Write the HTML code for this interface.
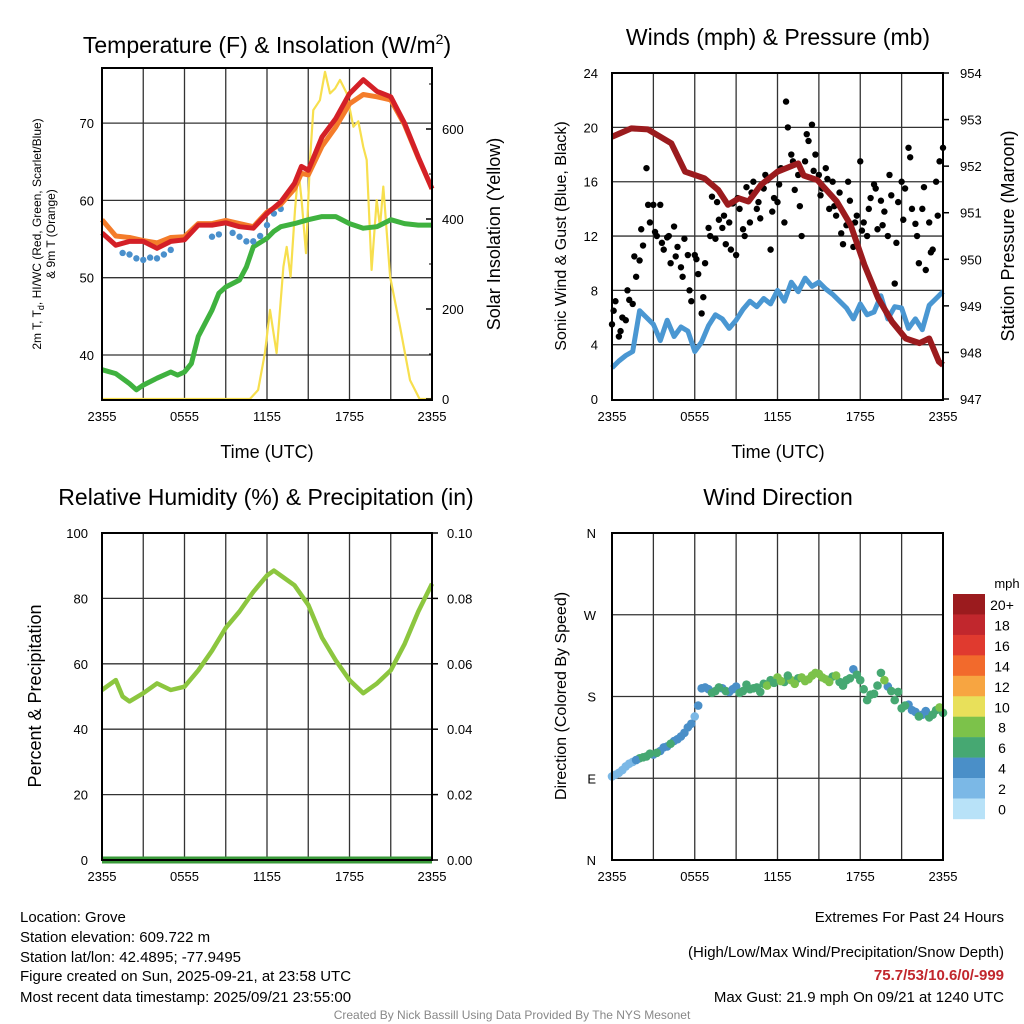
<!DOCTYPE html>
<html><head><meta charset="utf-8"><style>
html,body{margin:0;padding:0;background:#fff;}
svg{display:block;font-family:"Liberation Sans",Arial,sans-serif;}
</style></head><body>
<svg id="c" width="1024" height="1024" viewBox="0 0 1024 1024" xmlns="http://www.w3.org/2000/svg">
<g id="g"></g>
</svg>
<script>
// ---------- DATA ----------
const xTickLabels = ["2355","0555","1155","1755","2355"];
const tempHours = [0,1,2,3,4,5,6,7,8,9,10,11,12,13,14,14.5,15,16,17,18,19,20,21,22,23,24];
const tempRed =    [55.8,54.2,54.7,54.7,53.8,54.7,54.9,56.8,56.8,57.1,56.6,56.4,58.3,59.8,62.2,64.4,63.9,68.2,70.6,73.8,75.6,74.1,73.4,70,65.6,61.5];
const tempOrange = [57.5,55.4,55.2,54.8,54.5,55.2,55.3,57,57,57.4,57,56.6,58.5,59.5,61.5,63.5,63.3,67,69.5,72.5,73.7,73.4,73,69.8,65.5,61.5];
const wcHours = [1.5,2,2.5,3,3.5,4,4.5,5,8,8.5,9.5,10,10.5,11,11.5,12,12.5,13];
const wcBlue =  [53.2,53,52.5,52.3,52.6,52.5,53,53.6,55.3,55.6,55.8,55.3,54.7,54.7,55.4,56.8,58.3,58.9];
const dewHours = [0,1,2,2.5,3,4,5,5.5,6,6.5,7,7.5,8,8.5,9,10,10.5,11,12,12.5,13,14,15,16,17,18,19,20,21,22,23,24];
const dewGreen = [38.1,37.6,36.3,35.5,36.1,37,37.8,37.4,37.8,38.9,42.4,44.1,45.8,48,48.8,49.7,51.4,54,55.1,56,56.6,57,57.5,57.9,57.9,57,56.4,56.6,57.5,57,56.8,56.8];
const solarHours = [0,10.76,11.35,11.85,12.22,12.7,13.19,13.43,13.72,14.04,14.28,14.52,14.84,15.13,15.37,15.85,16.22,16.58,16.95,17.31,17.79,18.28,18.64,19.0,19.25,19.61,19.98,20.22,20.46,20.95,21.67,22.4,23.1,24];
const solarW =     [0,0,20,102,198,102,294,338,272,420,509,442,324,531,642,664,727,679,690,709,680,605,617,560,531,287,442,383,472,272,161,42,0,0];
const tempTicks = [40,50,60,70];
const solarTicks = [0,200,400,600];

const windSpd = [2.3,2.8,3.2,3.5,6.5,6.0,5.5,4.3,5.8,4.6,5.3,5.0,3.5,4.2,5.4,6.2,5.9,5.2,5.8,6.6,7.2,6.8,7.4,7.0,8.0,7.2,8.6,7.9,8.9,8.3,8.6,8.1,7.7,7.2,6.7,5.9,7.0,6.2,6.4,7.6,5.9,6.8,6.7,5.2,5.9,5.1,6.9,7.4,7.9];
const gust = [5.5,7.2,4.6,6.0,5.8,7.3,7.0,9.0,10.2,11.3,17.0,13.0,14.3,12.0,14.3,11.0,11.9,10.0,12.7,11.2,9.7,11.8,10.6,7.2,10.6,9.2,6.3,10.0,12.6,14.9,11.8,13.2,12.6,11.4,13.0,14.4,10.6,14.0,12.5,15.6,13.0,16.0,14.0,13.3,15.5,16.1,11.0,14.8,14.5,17.0,13.0,20.0,18.0,15.4,16.5,12.0,17.5,19.0,20.2,18.0,16.5,15.5,17.0,14.0,16.0,13.5,15.2,11.4,12.8,14.6,11.2,13.5,17.5,13.0,12.0,14.8,15.8,12.5,14.6,13.8,12.0,15.0,8.5,14.5,16.0,15.5,18.5,14.0,12.9,10.0,14.0,9.5,13.0,11.0,16.0,17.5,18.5];
const gust2 = [6.5,5.0,8.0,10.5,12.5,14.3,12.3,11.5,12.0,10.5,9.0,8.0,10.3,7.5,12.0,14.5,13.5,11.0,14.8,12.0,15.2,14.5,16.5,13.8,15.8,21.9,17.5,14.2,19.5,16.8,15.0,16.2,14.2,12.2,16.0,13.0,12.4,14.0,15.5,12.8,16.5,11.5,13.2,17.8,12.0,15.6,10.8,13.5];
const presHours = [0,1.4,2.6,4.3,5.3,6.7,7.7,8.4,9.2,9.9,10.8,12,13.5,13.9,14.9,16.3,17.3,18.3,19.3,20.3,21.3,22.3,23,23.7,24];
const pressure = [952.63,952.81,952.79,952.49,951.88,951.74,951.49,951.17,951.31,951.24,951.6,951.88,952.06,951.8,951.7,951.24,950.74,949.88,949.16,948.66,948.3,948.2,948.3,947.8,947.73];
const windTicks = [0,4,8,12,16,20,24];
const presTicks = [947,948,949,950,951,952,953,954];

const rhHours = [0,1,1.5,2,3,4,5,6,7,8,9,10,11,12,12.5,13,14,15,16,17,18,19,20,21,22,23,24];
const rh = [52,55,50,48.5,51,54,52,53,58,64,71,76,82,87,88.5,87,84,78,68,61,55,51,54,58,66,76,84.5];
const precip = [0,0];
const rhTicks = [0,20,40,60,80,100];
const precipTicks = ["0.00","0.02","0.04","0.06","0.08","0.10"];

const windDir = [92,96,103,108,112,114,116,120,125,131,136,146,158,189,188,186,189,185,191,186,188,190,194,198,201,196,198,200,197,203,205,199,202,196,198,210,198,176,183,206,191,176,167,171,163,160,157,165,162];
const windDir2 = [94,99,106,110,113,117,118,124,128,133,140,150,170,190,184,190,186,188,184,193,189,185,192,195,197,203,194,201,199,206,201,196,203,192,200,204,188,182,192,198,186,185,170,165,158,164,160,168];
const dirTickLabels = ["N","E","S","W","N"];
const cbLabels = ["20+","18","16","14","12","10","8","6","4","2","0"];
const cbColors = ["#9b1b1e","#c1272d","#e03a2f","#f26a2c","#f7a541","#e8e05a","#7cc24a","#46a872","#4a8fc8","#7bb8e6","#b8e2f8"];

// ---------- HELPERS ----------
const NS="http://www.w3.org/2000/svg";
const root=document.getElementById('g');
function el(tag,attrs,parent){const e=document.createElementNS(NS,tag);for(const k in attrs)e.setAttribute(k,attrs[k]);(parent||root).appendChild(e);return e;}
function txt(s,x,y,size,anchor,parent,extra){const t=el('text',Object.assign({x:x,y:y,'font-size':size,'text-anchor':anchor||'middle',fill:'#000'},extra||{}),parent);t.textContent=s;return t;}
function spd2color(s){let i=Math.min(10,Math.floor(s/2));return cbColors[10-i];}

function panel(name,x0,x1,y0,y1){
  const g=el('g',{});
  
  
  return {g,x0,x1,y0,y1,xh:h=>x0+h/24*(x1-x0)};
}
function grid(p,hys){
  for(let h=3;h<24;h+=3){const l=el('line',{x1:p.xh(h),x2:p.xh(h),y1:p.y0,y2:p.y1,stroke:'#333','stroke-width':1.3},p.g);
    }
  hys.forEach(y=>{const l=el('line',{x1:p.x0,x2:p.x1,y1:y,y2:y,stroke:'#333','stroke-width':1.3},p.g);
    });
}
function frame(p){
  const r=el('rect',{x:p.x0,y:p.y0,width:p.x1-p.x0,height:p.y1-p.y0,fill:'none',stroke:'#000','stroke-width':2},p.g);
  
}
function xLabels(p){
  xTickLabels.forEach((s,i)=>{const t=txt(s,p.xh(i*6),p.y1+21,13,'middle',p.g);
    });
}
function pathFrom(xs,ys){let d='';for(let i=0;i<xs.length;i++){d+=(i?'L':'M')+xs[i].toFixed(1)+','+ys[i].toFixed(1);}return d;}

// ---------- PANEL 1: Temperature ----------
{
const p=panel('temperature-panel',102,432,68,400);
const yT=v=>355-(v-40)*7.73;
const yS=w=>399-w*0.45;
grid(p,tempTicks.map(yT));
const s=el('path',{d:pathFrom(solarHours.map(p.xh),solarW.map(yS)),fill:'none',stroke:'#f7df4e','stroke-width':2.2,'stroke-linejoin':'round'},p.g);

const d=el('path',{d:pathFrom(dewHours.map(p.xh),dewGreen.map(yT)),fill:'none',stroke:'#3fb23f','stroke-width':5,'stroke-linejoin':'round'},p.g);

wcHours.forEach((h,i)=>{const c=el('circle',{cx:p.xh(h),cy:yT(wcBlue[i]),r:3.2,fill:'#4a90cc'},p.g);
  });
const o=el('path',{d:pathFrom(tempHours.map(p.xh),tempOrange.map(yT)),fill:'none',stroke:'#f47c2a','stroke-width':5,'stroke-linejoin':'round'},p.g);

const r=el('path',{d:pathFrom(tempHours.map(p.xh),tempRed.map(yT)),fill:'none',stroke:'#d42027','stroke-width':5,'stroke-linejoin':'round'},p.g);

frame(p);xLabels(p);
tempTicks.forEach(v=>{const t=txt(String(v),p.x0-8,yT(v)+5,13,'end',p.g);});
solarTicks.forEach(v=>{const t=txt(String(v),p.x1+10,yS(v)+5,13,'start',p.g);
  el('line',{x1:p.x1,x2:p.x1-6,y1:yS(v),y2:yS(v),stroke:'#000','stroke-width':1.5},p.g);
  el('line',{x1:p.x1,x2:p.x1-3,y1:yS(v+100),y2:yS(v+100),stroke:'#000','stroke-width':1},p.g);});
}
// ---------- PANEL 2: Winds ----------
{
const p=panel('winds-panel',612,943,73,400);
const yW=v=>399-v*13.58;
const yP=v=>399-(v-947)*46.57;
grid(p,windTicks.slice(1,6).map(yW));
const w=el('path',{d:pathFrom(windSpd.map((v,i)=>p.xh(i*0.5)),windSpd.map(yW)),fill:'none',stroke:'#4a97d2','stroke-width':5,'stroke-linejoin':'round'},p.g);

gust.forEach((v,i)=>{const c=el('circle',{cx:p.xh(i*0.25),cy:yW(v),r:3.2,fill:'#000'},p.g);
  });
gust2.forEach((v,i)=>{const c=el('circle',{cx:p.xh(i*0.5+0.12),cy:yW(v),r:3.2,fill:'#000'},p.g);
  });
const pr=el('path',{d:pathFrom(presHours.map(p.xh),pressure.map(yP)),fill:'none',stroke:'#9b1b1e','stroke-width':6,'stroke-linejoin':'round'},p.g);

frame(p);xLabels(p);
windTicks.forEach(v=>{const t=txt(String(v),p.x0-14,yW(v)+5,13,'end',p.g);});
presTicks.forEach(v=>{const t=txt(String(v),p.x1+17,yP(v)+5,13,'start',p.g);
  el('line',{x1:p.x1,x2:p.x1+6,y1:yP(v),y2:yP(v),stroke:'#000','stroke-width':1.5},p.g);});
}
// ---------- PANEL 3: RH ----------
{
const p=panel('humidity-panel',102,432,533,860);
const yR=v=>860-v*3.27;
grid(p,rhTicks.slice(1,5).map(yR));
const pc=el('path',{d:pathFrom([p.x0,p.x1],precip.map(v=>860-v*3270)),fill:'none',stroke:'#3a9a3a','stroke-width':7},p.g);

const r=el('path',{d:pathFrom(rhHours.map(p.xh),rh.map(yR)),fill:'none',stroke:'#8cc63f','stroke-width':4.5,'stroke-linejoin':'round'},p.g);

frame(p);xLabels(p);
rhTicks.forEach(v=>{const t=txt(String(v),p.x0-14,yR(v)+5,13,'end',p.g);});
precipTicks.forEach((s,i)=>{const t=txt(s,p.x1+15,yR(i*20)+5,13,'start',p.g);
  el('line',{x1:p.x1,x2:p.x1+6,y1:yR(i*20),y2:yR(i*20),stroke:'#000','stroke-width':1.5},p.g);});
}
// ---------- PANEL 4: Wind direction ----------
{
const p=panel('wind-direction-panel',612,943,533,860);
const yD=v=>860-v/360*327;
grid(p,[90,180,270].map(yD));
windDir.forEach((v,i)=>{const c=el('circle',{cx:p.xh(i*0.5),cy:yD(v),r:4.3,fill:spd2color(windSpd[i])},p.g);
  });
windDir2.forEach((v,i)=>{const c=el('circle',{cx:p.xh(i*0.5+0.25),cy:yD(v),r:4.3,fill:spd2color(windSpd[i]+0.6)},p.g);
  });
frame(p);xLabels(p);
dirTickLabels.forEach((s,i)=>{const t=txt(s,p.x0-16,yD(i*90)+5,13,'end',p.g);});
const cb=el('g',{});

const t0=txt('mph',1007,588,13,'middle',cb);
cbColors.forEach((c,i)=>{el('rect',{x:953,y:594+i*20.45,width:32,height:20.7,fill:c},cb);
  const t=txt(cbLabels[i],1002,610+i*20.45,14,'middle',cb);});
}
</script>
<svg width="1024" height="1024" viewBox="0 0 1024 1024" style="position:absolute;left:0;top:0;font-family:'Liberation Sans',Arial,sans-serif">
<text x="267" y="53" font-size="23" text-anchor="middle">Temperature (F) &amp; Insolation (W/m<tspan dy="-9" font-size="14">2</tspan><tspan dy="9">)</tspan></text>
<text x="778" y="45" font-size="23" text-anchor="middle">Winds (mph) &amp; Pressure (mb)</text>
<text x="266" y="505" font-size="23" text-anchor="middle">Relative Humidity (%) &amp; Precipitation (in)</text>
<text x="778" y="505" font-size="23" text-anchor="middle">Wind Direction</text>
<text x="267" y="458" font-size="18" text-anchor="middle">Time (UTC)</text>
<text x="778" y="458" font-size="18" text-anchor="middle">Time (UTC)</text>
<text transform="translate(41,234) rotate(-90)" font-size="12" text-anchor="middle">2m T, T<tspan font-size="9" dy="3">d</tspan><tspan dy="-3">, HI/WC (Red, Green, Scarlet/Blue)</tspan></text>
<text transform="translate(55,234) rotate(-90)" font-size="12" text-anchor="middle">&amp; 9m T (Orange)</text>
<text transform="translate(500,234) rotate(-90)" font-size="18" text-anchor="middle">Solar Insolation (Yellow)</text>
<text transform="translate(566,236) rotate(-90)" font-size="16" text-anchor="middle">Sonic Wind &amp; Gust (Blue, Black)</text>
<text transform="translate(1014,236) rotate(-90)" font-size="18" text-anchor="middle">Station Pressure (Maroon)</text>
<text transform="translate(41,696) rotate(-90)" font-size="18" text-anchor="middle">Percent &amp; Precipitation</text>
<text transform="translate(566,696) rotate(-90)" font-size="16" text-anchor="middle">Direction (Colored By Speed)</text>
<g font-size="15">
<text x="20" y="922">Location: Grove</text>
<text x="20" y="942">Station elevation: 609.722 m</text>
<text x="20" y="962">Station lat/lon: 42.4895; -77.9495</text>
<text x="20" y="981">Figure created on Sun, 2025-09-21, at 23:58 UTC</text>
<text x="20" y="1002">Most recent data timestamp: 2025/09/21 23:55:00</text>
</g>
<g font-size="15" text-anchor="end">
<text x="1004" y="922">Extremes For Past 24 Hours</text>
<text x="1004" y="957">(High/Low/Max Wind/Precipitation/Snow Depth)</text>
<text x="1004" y="980" fill="#c1272d" font-weight="bold">75.7/53/10.6/0/-999</text>
<text x="1004" y="1002">Max Gust: 21.9 mph On 09/21 at 1240 UTC</text>
</g>
<text x="512" y="1019" font-size="12" fill="#888" text-anchor="middle">Created By Nick Bassill Using Data Provided By The NYS Mesonet</text>
</svg>
</body></html>
